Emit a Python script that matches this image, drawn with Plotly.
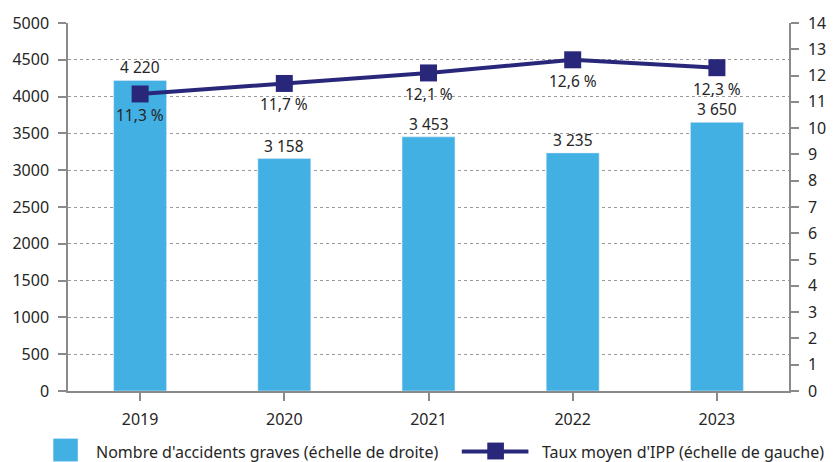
import plotly.graph_objects as go

# Data
years = ["2019", "2020", "2021", "2022", "2023"]
accidents = [4220, 3158, 3453, 3235, 3650]
ipp_rate = [11.3, 11.7, 12.1, 12.6, 12.3]
accident_labels = ["4 220", "3 158", "3 453", "3 235", "3 650"]
ipp_labels = ["11,3 %", "11,7 %", "12,1 %", "12,6 %", "12,3 %"]
legend_bar = "Nombre d'accidents graves (échelle de droite)"
legend_line = "Taux moyen d'IPP (échelle de gauche)"

BAR_COLOR = "#43b0e4"
LINE_COLOR = "#29277a"
TEXT_COLOR = "#262626"
AXIS_COLOR = "#8a8a8a"
FONT = "Noto Sans"
FS = 16
FS_VAL = 15.5

W, H = 838, 462
ML, MR, MT, MB = 66, 36, 20, 71
PW, PH = W - ML - MR, H - MT - MB


def px_x(px):
    return (px - ML) / PW


def px_y(py):
    return (H - MB - py) / PH


fig = go.Figure()

fig.add_trace(go.Bar(
    x=years, y=accidents, marker_color=BAR_COLOR, width=0.367,
    yaxis="y", showlegend=False, hoverinfo="x+y",
))

fig.add_trace(go.Scatter(
    x=years, y=ipp_rate, mode="lines+markers", yaxis="y2",
    line=dict(color=LINE_COLOR, width=4),
    marker=dict(symbol="square", size=17, color=LINE_COLOR),
    showlegend=False,
))

# Value labels (category positions given by index on the category axis)
annotations = []
for i, (v, t) in enumerate(zip(accidents, accident_labels)):
    annotations.append(dict(
        x=i, y=v, xref="x", yref="y", text=t, showarrow=False,
        yanchor="middle", yshift=13, font=dict(size=FS_VAL, color=TEXT_COLOR, family=FONT),
    ))
for i, (v, t) in enumerate(zip(ipp_rate, ipp_labels)):
    annotations.append(dict(
        x=i, y=v, xref="x", yref="y2", text=t, showarrow=False,
        yanchor="middle", yshift=-21, font=dict(size=FS_VAL, color=TEXT_COLOR, family=FONT),
    ))

# Legend drawn below the plot
annotations.append(dict(
    x=px_x(93), y=px_y(452), xref="paper", yref="paper", text=legend_bar,
    showarrow=False, xanchor="left", yanchor="middle",
    font=dict(size=FS, color=TEXT_COLOR, family=FONT),
))
annotations.append(dict(
    x=px_x(548), y=px_y(452), xref="paper", yref="paper", text=legend_line,
    showarrow=False, xanchor="left", yanchor="middle",
    font=dict(size=FS, color=TEXT_COLOR, family=FONT),
))

shapes = [
    dict(type="rect", xref="paper", yref="paper",
         x0=px_x(51), x1=px_x(76), y0=px_y(462), y1=px_y(439),
         fillcolor=BAR_COLOR, line=dict(width=0)),
    dict(type="line", xref="paper", yref="paper",
         x0=px_x(468), x1=px_x(536), y0=px_y(452), y1=px_y(452),
         line=dict(color=LINE_COLOR, width=4)),
    dict(type="rect", xref="paper", yref="paper",
         x0=px_x(494), x1=px_x(511), y0=px_y(460), y1=px_y(443),
         fillcolor=LINE_COLOR, line=dict(width=0)),
]

fig.update_layout(
    width=W, height=H,
    margin=dict(l=ML, r=MR, t=MT, b=MB, pad=0),
    plot_bgcolor="white", paper_bgcolor="white",
    font=dict(family=FONT, size=FS, color=TEXT_COLOR),
    xaxis=dict(
        type="category", range=[-0.5, len(years) - 0.5],
        showline=True, linecolor=AXIS_COLOR, linewidth=1.5,
        ticks="outside", ticklen=8, tickcolor=AXIS_COLOR, tickwidth=1.5,
        showgrid=False, tickfont=dict(size=FS, color=TEXT_COLOR),
        ticklabelstandoff=5,
    ),
    yaxis=dict(
        range=[0, 5000], dtick=500, showline=True, linecolor=AXIS_COLOR, linewidth=1.5,
        ticks="outside", ticklen=8, tickcolor=AXIS_COLOR, tickwidth=1.5,
        showgrid=True, gridcolor="#9a9a9a", griddash="dot", gridwidth=1,
        zeroline=False, tickfont=dict(size=FS, color=TEXT_COLOR),
        ticklabelstandoff=6,
    ),
    yaxis2=dict(
        range=[0, 14], dtick=1, overlaying="y", side="right",
        showline=True, linecolor=AXIS_COLOR, linewidth=1.5,
        ticks="outside", ticklen=8, tickcolor=AXIS_COLOR, tickwidth=1.5,
        showgrid=False, zeroline=False, tickfont=dict(size=FS, color=TEXT_COLOR),
        ticklabelstandoff=6,
    ),
    annotations=annotations,
    shapes=shapes,
)

fig.write_html("out.html")
